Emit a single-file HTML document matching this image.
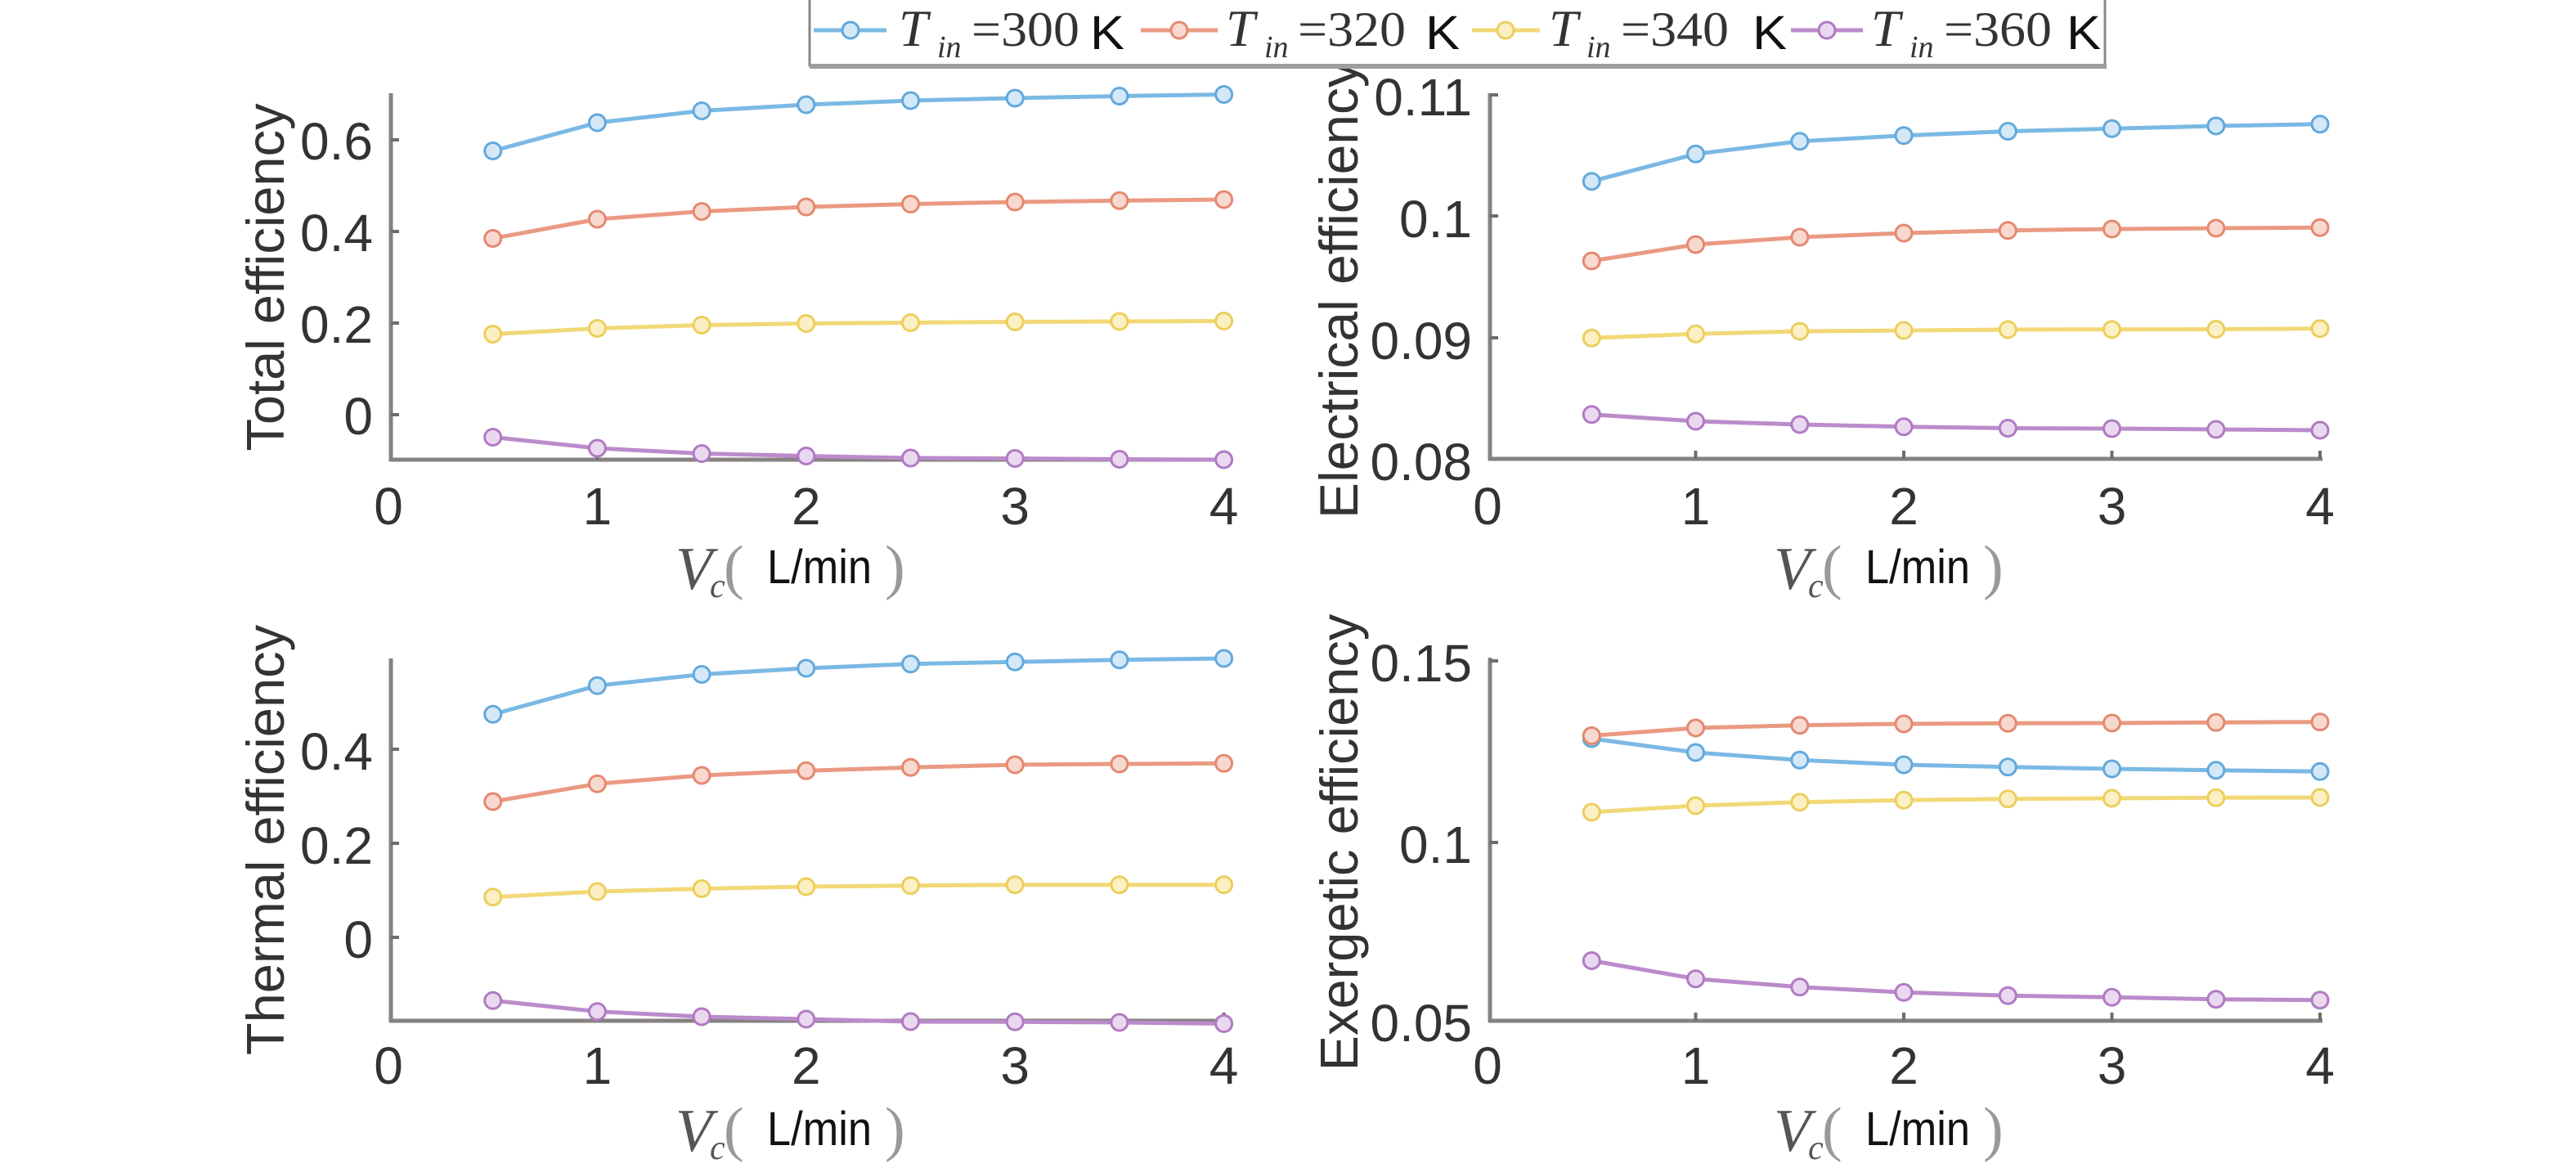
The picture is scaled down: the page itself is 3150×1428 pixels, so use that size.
<!DOCTYPE html>
<html>
<head>
<meta charset="utf-8">
<style>
  html, body { margin: 0; padding: 0; background: #ffffff; }
  svg { display: block; }
  .tick { font-family: "Liberation Sans", Arial, sans-serif; font-size: 64px; fill: #333333; }
  .ylab { font-family: "Liberation Sans", Arial, sans-serif; font-size: 65px; fill: #333333; }
  .serif { font-family: "Liberation Serif", "Times New Roman", serif; }
  .sans { font-family: "Liberation Sans", Arial, sans-serif; }
</style>
</head>
<body>
<svg width="3150" height="1428" viewBox="0 0 3150 1428" xmlns="http://www.w3.org/2000/svg">
  <defs>
    <marker id="mB" markerUnits="userSpaceOnUse" markerWidth="30" markerHeight="30" refX="15" refY="15">
      <circle cx="15" cy="15" r="10" fill="#d4e8f7" stroke="#62a9dc" stroke-width="3"/>
    </marker>
    <marker id="mR" markerUnits="userSpaceOnUse" markerWidth="30" markerHeight="30" refX="15" refY="15">
      <circle cx="15" cy="15" r="10" fill="#f8d9cf" stroke="#e5886f" stroke-width="3"/>
    </marker>
    <marker id="mY" markerUnits="userSpaceOnUse" markerWidth="30" markerHeight="30" refX="15" refY="15">
      <circle cx="15" cy="15" r="10" fill="#faf0c4" stroke="#ecce5c" stroke-width="3"/>
    </marker>
    <marker id="mP" markerUnits="userSpaceOnUse" markerWidth="30" markerHeight="30" refX="15" refY="15">
      <circle cx="15" cy="15" r="10" fill="#ead8f0" stroke="#b07ac3" stroke-width="3"/>
    </marker>
  </defs>

  <rect x="0" y="0" width="3150" height="1428" fill="#ffffff"/>

  <!-- ================= AXES ================= -->
  <g stroke="#85827f" stroke-width="5" fill="none">
    <line x1="478" y1="114" x2="478" y2="564"/>
    <line x1="476" y1="562" x2="1499" y2="562"/>
    <line x1="1822" y1="114" x2="1822" y2="563"/>
    <line x1="1820" y1="561" x2="2840" y2="561"/>
    <line x1="478" y1="805" x2="478" y2="1250"/>
    <line x1="476" y1="1248" x2="1499" y2="1248"/>
    <line x1="1822" y1="804" x2="1822" y2="1250"/>
    <line x1="1820" y1="1248" x2="2840" y2="1248"/>
  </g>
  <g stroke="#6f6c69" stroke-width="4">
    <line x1="478" y1="171" x2="488" y2="171"/>
    <line x1="478" y1="283" x2="488" y2="283"/>
    <line x1="478" y1="395" x2="488" y2="395"/>
    <line x1="478" y1="507" x2="488" y2="507"/>
    <line x1="730.4" y1="562" x2="730.4" y2="552"/>
    <line x1="985.8" y1="562" x2="985.8" y2="552"/>
    <line x1="1241.2" y1="562" x2="1241.2" y2="552"/>
    <line x1="1496.6" y1="562" x2="1496.6" y2="552"/>
    <line x1="1822" y1="116" x2="1832" y2="116"/>
    <line x1="1822" y1="264" x2="1832" y2="264"/>
    <line x1="1822" y1="413" x2="1832" y2="413"/>
    <line x1="2073.5" y1="561" x2="2073.5" y2="551"/>
    <line x1="2328" y1="561" x2="2328" y2="551"/>
    <line x1="2582.5" y1="561" x2="2582.5" y2="551"/>
    <line x1="2837" y1="561" x2="2837" y2="551"/>
    <line x1="478" y1="916" x2="488" y2="916"/>
    <line x1="478" y1="1031" x2="488" y2="1031"/>
    <line x1="478" y1="1146" x2="488" y2="1146"/>
    <line x1="730.4" y1="1248" x2="730.4" y2="1238"/>
    <line x1="985.8" y1="1248" x2="985.8" y2="1238"/>
    <line x1="1241.2" y1="1248" x2="1241.2" y2="1238"/>
    <line x1="1496.6" y1="1248" x2="1496.6" y2="1238"/>
    <line x1="1822" y1="808" x2="1832" y2="808"/>
    <line x1="1822" y1="1030" x2="1832" y2="1030"/>
    <line x1="2073.5" y1="1248" x2="2073.5" y2="1238"/>
    <line x1="2328" y1="1248" x2="2328" y2="1238"/>
    <line x1="2582.5" y1="1248" x2="2582.5" y2="1238"/>
    <line x1="2837" y1="1248" x2="2837" y2="1238"/>
  </g>

  <!-- ================= DATA ================= -->
  <g fill="none" stroke-width="5" stroke-linejoin="round">
    <!-- TL -->
    <polyline stroke="#7bb9e4" marker-start="url(#mB)" marker-mid="url(#mB)" marker-end="url(#mB)"
      points="602.7,184.5 730.4,150 858.1,135.5 985.8,128 1113.5,123 1241.2,120 1368.9,117.5 1496.6,115.5"/>
    <polyline stroke="#ea9a82" marker-start="url(#mR)" marker-mid="url(#mR)" marker-end="url(#mR)"
      points="602.7,291.5 730.4,268 858.1,258.5 985.8,253 1113.5,249.5 1241.2,247 1368.9,245.3 1496.6,244"/>
    <polyline stroke="#f2d877" marker-start="url(#mY)" marker-mid="url(#mY)" marker-end="url(#mY)"
      points="602.7,408.5 730.4,401.5 858.1,397.5 985.8,395.5 1113.5,394.5 1241.2,393.5 1368.9,393 1496.6,392.5"/>
    <polyline stroke="#bb8bcb" marker-start="url(#mP)" marker-mid="url(#mP)" marker-end="url(#mP)"
      points="602.7,534.5 730.4,548 858.1,554.5 985.8,557.5 1113.5,560 1241.2,560.5 1368.9,561.5 1496.6,562"/>

    <!-- TR -->
    <polyline stroke="#7bb9e4" marker-start="url(#mB)" marker-mid="url(#mB)" marker-end="url(#mB)"
      points="1946.3,221.7 2073.5,188.3 2200.8,172.7 2328,165.7 2455.3,160.5 2582.5,157.3 2709.8,154 2837,151.7"/>
    <polyline stroke="#ea9a82" marker-start="url(#mR)" marker-mid="url(#mR)" marker-end="url(#mR)"
      points="1946.3,319 2073.5,299 2200.8,290 2328,285 2455.3,281.7 2582.5,280 2709.8,279 2837,278.3"/>
    <polyline stroke="#f2d877" marker-start="url(#mY)" marker-mid="url(#mY)" marker-end="url(#mY)"
      points="1946.3,413.3 2073.5,408.3 2200.8,405 2328,404 2455.3,403 2582.5,402.7 2709.8,402.5 2837,401.7"/>
    <polyline stroke="#bb8bcb" marker-start="url(#mP)" marker-mid="url(#mP)" marker-end="url(#mP)"
      points="1946.3,506.7 2073.5,515 2200.8,519 2328,521.7 2455.3,523.5 2582.5,524 2709.8,525 2837,526"/>

    <!-- BL -->
    <polyline stroke="#7bb9e4" marker-start="url(#mB)" marker-mid="url(#mB)" marker-end="url(#mB)"
      points="602.7,873.3 730.4,838.3 858.1,824.5 985.8,817 1113.5,811.7 1241.2,809.3 1368.9,806.7 1496.6,805"/>
    <polyline stroke="#ea9a82" marker-start="url(#mR)" marker-mid="url(#mR)" marker-end="url(#mR)"
      points="602.7,980 730.4,958.3 858.1,948 985.8,942.3 1113.5,938.3 1241.2,935 1368.9,934 1496.6,933.3"/>
    <polyline stroke="#f2d877" marker-start="url(#mY)" marker-mid="url(#mY)" marker-end="url(#mY)"
      points="602.7,1096.7 730.4,1090 858.1,1086.5 985.8,1084 1113.5,1082.7 1241.2,1081.7 1368.9,1081.7 1496.6,1081.7"/>
    <polyline stroke="#bb8bcb" marker-start="url(#mP)" marker-mid="url(#mP)" marker-end="url(#mP)"
      points="602.7,1223.3 730.4,1236.7 858.1,1243 985.8,1246 1113.5,1249 1241.2,1249.3 1368.9,1250 1496.6,1251.5"/>

    <!-- BR -->
    <polyline stroke="#7bb9e4" marker-start="url(#mB)" marker-mid="url(#mB)" marker-end="url(#mB)"
      points="1946.3,903 2073.5,920 2200.8,929.3 2328,935 2455.3,937.7 2582.5,940 2709.8,941.7 2837,943.3"/>
    <polyline stroke="#ea9a82" marker-start="url(#mR)" marker-mid="url(#mR)" marker-end="url(#mR)"
      points="1946.3,899.5 2073.5,890 2200.8,886.7 2328,885 2455.3,884.3 2582.5,884 2709.8,883.3 2837,882.7"/>
    <polyline stroke="#f2d877" marker-start="url(#mY)" marker-mid="url(#mY)" marker-end="url(#mY)"
      points="1946.3,993 2073.5,985 2200.8,980.7 2328,978.3 2455.3,976.7 2582.5,976 2709.8,975.3 2837,975"/>
    <polyline stroke="#bb8bcb" marker-start="url(#mP)" marker-mid="url(#mP)" marker-end="url(#mP)"
      points="1946.3,1174.5 2073.5,1196.7 2200.8,1206.7 2328,1213.3 2455.3,1217.3 2582.5,1219.3 2709.8,1221.7 2837,1222.7"/>
  </g>

  <!-- ================= TICK LABELS ================= -->
  <g class="tick" text-anchor="end">
    <text x="456" y="195">0.6</text>
    <text x="456" y="307">0.4</text>
    <text x="456" y="419">0.2</text>
    <text x="456" y="531">0</text>
    <text x="1800" y="141">0.11</text>
    <text x="1800" y="290">0.1</text>
    <text x="1800" y="439">0.09</text>
    <text x="1800" y="587">0.08</text>
    <text x="456" y="941">0.4</text>
    <text x="456" y="1056">0.2</text>
    <text x="456" y="1171">0</text>
    <text x="1800" y="833">0.15</text>
    <text x="1800" y="1055">0.1</text>
    <text x="1800" y="1273">0.05</text>
  </g>
  <g class="tick" text-anchor="middle">
    <text x="475" y="641">0</text>
    <text x="730.4" y="641">1</text>
    <text x="985.8" y="641">2</text>
    <text x="1241.2" y="641">3</text>
    <text x="1496.6" y="641">4</text>
    <text x="1819" y="641">0</text>
    <text x="2073.5" y="641">1</text>
    <text x="2328" y="641">2</text>
    <text x="2582.5" y="641">3</text>
    <text x="2837" y="641">4</text>
    <text x="475" y="1325">0</text>
    <text x="730.4" y="1325">1</text>
    <text x="985.8" y="1325">2</text>
    <text x="1241.2" y="1325">3</text>
    <text x="1496.6" y="1325">4</text>
    <text x="1819" y="1325">0</text>
    <text x="2073.5" y="1325">1</text>
    <text x="2328" y="1325">2</text>
    <text x="2582.5" y="1325">3</text>
    <text x="2837" y="1325">4</text>
  </g>

  <!-- ================= Y LABELS ================= -->
  <g class="ylab" text-anchor="middle">
    <text transform="translate(347,339) rotate(-90)">Total efficiency</text>
    <text transform="translate(347,1027) rotate(-90)">Thermal efficiency</text>
    <text transform="translate(1660,354) rotate(-90)" font-size="66">Electrical efficiency</text>
    <text transform="translate(1660,1030) rotate(-90)">Exergetic efficiency</text>
  </g>

  <!-- ================= X LABELS ================= -->
  <g>
    <text x="826" y="720" class="serif" font-style="italic" font-size="74" fill="#555">V</text>
    <text x="868" y="730" class="serif" font-style="italic" font-size="42" fill="#555">c</text>
    <text x="885" y="718" class="serif" font-size="74" fill="#999">(</text>
    <text x="938" y="713" class="sans" font-size="58" fill="#111" textLength="128" lengthAdjust="spacingAndGlyphs">L/min</text>
    <text x="1082" y="718" class="serif" font-size="74" fill="#999">)</text>
  </g>
  <g>
    <text x="2169" y="720" class="serif" font-style="italic" font-size="74" fill="#555">V</text>
    <text x="2211" y="730" class="serif" font-style="italic" font-size="42" fill="#555">c</text>
    <text x="2228" y="718" class="serif" font-size="74" fill="#999">(</text>
    <text x="2281" y="713" class="sans" font-size="58" fill="#111" textLength="128" lengthAdjust="spacingAndGlyphs">L/min</text>
    <text x="2425" y="718" class="serif" font-size="74" fill="#999">)</text>
  </g>
  <g>
    <text x="826" y="1407" class="serif" font-style="italic" font-size="74" fill="#555">V</text>
    <text x="868" y="1417" class="serif" font-style="italic" font-size="42" fill="#555">c</text>
    <text x="885" y="1405" class="serif" font-size="74" fill="#999">(</text>
    <text x="938" y="1400" class="sans" font-size="58" fill="#111" textLength="128" lengthAdjust="spacingAndGlyphs">L/min</text>
    <text x="1082" y="1405" class="serif" font-size="74" fill="#999">)</text>
  </g>
  <g>
    <text x="2169" y="1407" class="serif" font-style="italic" font-size="74" fill="#555">V</text>
    <text x="2211" y="1417" class="serif" font-style="italic" font-size="42" fill="#555">c</text>
    <text x="2228" y="1405" class="serif" font-size="74" fill="#999">(</text>
    <text x="2281" y="1400" class="sans" font-size="58" fill="#111" textLength="128" lengthAdjust="spacingAndGlyphs">L/min</text>
    <text x="2425" y="1405" class="serif" font-size="74" fill="#999">)</text>
  </g>

  <!-- ================= LEGEND ================= -->
  <rect x="990" y="-4" width="1584" height="84" fill="#ffffff" stroke="#8a8784" stroke-width="3"/>
  <line x1="990" y1="81" x2="2576" y2="81" stroke="#a09d9a" stroke-width="6"/>
  <g fill="none" stroke-width="5">
    <line x1="995" y1="37" x2="1084" y2="37" stroke="#7bb9e4"/>
    <line x1="1395" y1="37" x2="1489" y2="37" stroke="#ea9a82"/>
    <line x1="1800" y1="37" x2="1883" y2="37" stroke="#f2d877"/>
    <line x1="2190" y1="37" x2="2278" y2="37" stroke="#bb8bcb"/>
  </g>
  <circle cx="1040" cy="37" r="10" fill="#d4e8f7" stroke="#62a9dc" stroke-width="3"/>
  <circle cx="1442" cy="37" r="10" fill="#f8d9cf" stroke="#e5886f" stroke-width="3"/>
  <circle cx="1841" cy="37" r="10" fill="#faf0c4" stroke="#ecce5c" stroke-width="3"/>
  <circle cx="2234" cy="37" r="10" fill="#ead8f0" stroke="#b07ac3" stroke-width="3"/>

  <g fill="#333">
    <text x="1099" y="56" class="serif" font-style="italic" font-size="64">T</text>
    <text x="1146" y="70" class="serif" font-style="italic" font-size="38">in</text>
    <text x="1188" y="56" class="serif" font-size="60" textLength="132" lengthAdjust="spacingAndGlyphs">=300</text>
    <text x="1333" y="60" class="sans" font-size="58" fill="#111" textLength="42" lengthAdjust="spacingAndGlyphs">K</text>

    <text x="1499" y="56" class="serif" font-style="italic" font-size="64">T</text>
    <text x="1546" y="70" class="serif" font-style="italic" font-size="38">in</text>
    <text x="1587" y="56" class="serif" font-size="60" textLength="132" lengthAdjust="spacingAndGlyphs">=320</text>
    <text x="1743" y="60" class="sans" font-size="58" fill="#111" textLength="42" lengthAdjust="spacingAndGlyphs">K</text>

    <text x="1894" y="56" class="serif" font-style="italic" font-size="64">T</text>
    <text x="1940" y="70" class="serif" font-style="italic" font-size="38">in</text>
    <text x="1982" y="56" class="serif" font-size="60" textLength="132" lengthAdjust="spacingAndGlyphs">=340</text>
    <text x="2143" y="60" class="sans" font-size="58" fill="#111" textLength="42" lengthAdjust="spacingAndGlyphs">K</text>

    <text x="2288" y="56" class="serif" font-style="italic" font-size="64">T</text>
    <text x="2335" y="70" class="serif" font-style="italic" font-size="38">in</text>
    <text x="2377" y="56" class="serif" font-size="60" textLength="132" lengthAdjust="spacingAndGlyphs">=360</text>
    <text x="2527" y="60" class="sans" font-size="58" fill="#111" textLength="42" lengthAdjust="spacingAndGlyphs">K</text>
  </g>
</svg>
</body>
</html>
